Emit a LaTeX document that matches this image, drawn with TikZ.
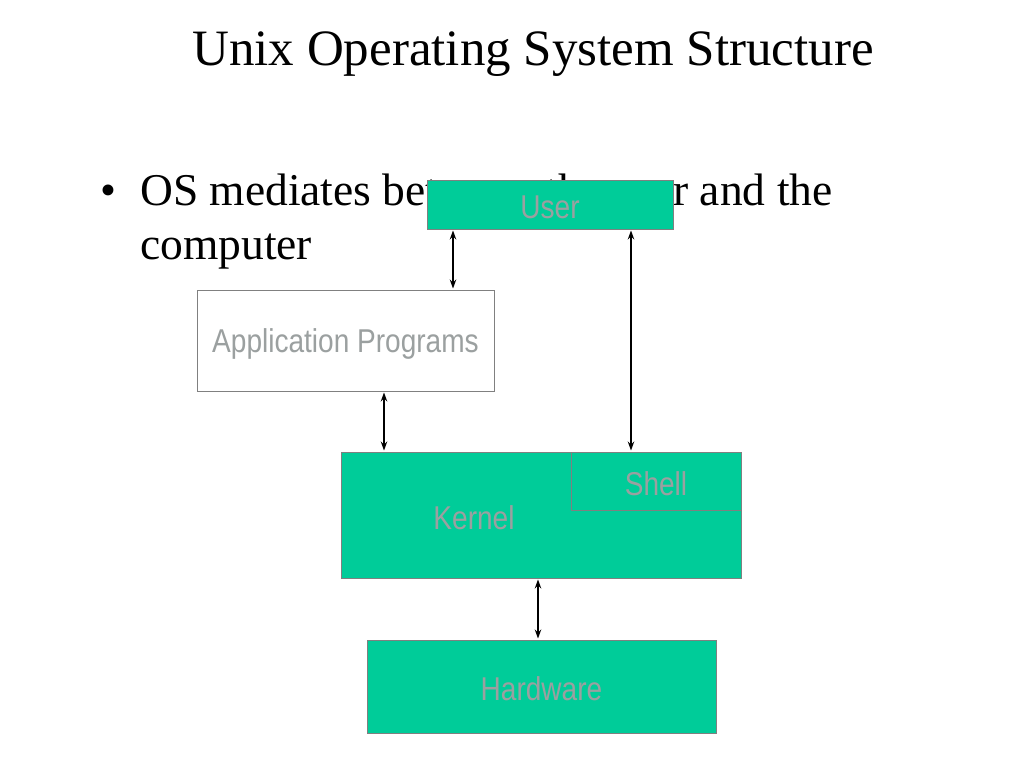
\documentclass[tikz,border=0pt]{standalone}
\usepackage{fontspec}
\setmainfont{Liberation Serif}
\newfontfamily\boxfont{Liberation Sans}
\usetikzlibrary{arrows.meta,positioning}
\definecolor{osgreen}{RGB}{0,204,153}
\definecolor{osgray}{RGB}{155,160,160}
\definecolor{osedge}{RGB}{128,128,128}
\newcommand{\narrowtext}[1]{\scalebox{0.85}[1]{#1}}

\begin{document}
\begin{tikzpicture}[
		x=1pt, y=-1pt,
		layer/.style={draw=osedge, line width=1pt, fill=osgreen, inner sep=0pt,
				font=\boxfont\fontsize{33}{36}\selectfont, text=osgray},
		plain/.style={layer, fill=white},
		arr/.style={{Stealth[length=9pt,width=6.5pt]}-{Stealth[length=9pt,width=6.5pt]}, line width=1.1pt, shorten <=1pt, shorten >=1pt},
		txt/.style={anchor=base west, inner sep=0pt, font=\fontsize{45.5}{54}\selectfont}
		]
		\useasboundingbox (0,0) rectangle (1024,768);
		\node[anchor=base, inner sep=0pt, font=\fontsize{51}{60}\selectfont] (title) at (533,65) {Unix Operating System Structure};
		\node[txt] (bullet) at (100,205) {\textbullet};
		\node[txt] (line1) at (140,205) {OS mediates between the user and the};
		\node[txt] (line2) at (140,259) {computer};
		\node[layer, minimum width=246pt, minimum height=49pt] (user) at (550,204.5) {};
		\node[layer, draw=none, fill=none] (userlbl) at (550,207) {\narrowtext{User}};
		\node[plain, minimum width=297pt, minimum height=101pt] (app) at (345.5,340.5) {};
		\node[layer, draw=none, fill=none] (applbl) at (345.5,344) {\narrowtext{Application Programs}};
		\node[layer, minimum width=400pt, minimum height=126pt] (kernel) at (541,515) {};
		\node[layer, draw=none, fill=none] (kernellbl) at (474,518) {\narrowtext{Kernel}};
		\node[layer, minimum width=170pt, minimum height=58pt] (shell) at (656,481) {};
		\node[layer, draw=none, fill=none] (shelllbl) at (656,484) {\narrowtext{Shell}};
		\node[layer, minimum width=349pt, minimum height=93pt] (hw) at (541.5,686.5) {};
		\node[layer, draw=none, fill=none] (hwlbl) at (541.5,689) {\narrowtext{Hardware}};
		% connector feet
		\coordinate (ua) at ([xshift=-97pt]user.south);
		\coordinate (us) at ([xshift=81pt]user.south);
		\coordinate (ak) at ([xshift=38.5pt]app.south);
		\coordinate (kh) at ([xshift=-3pt]kernel.south);
		\draw[arr] (ua) -- (ua |- app.north);
		\draw[arr] (us) -- (us |- shell.north);
		\draw[arr] (ak) -- (ak |- kernel.north);
		\draw[arr] (kh) -- (kh |- hw.north);
	\end{tikzpicture}
\end{document}
